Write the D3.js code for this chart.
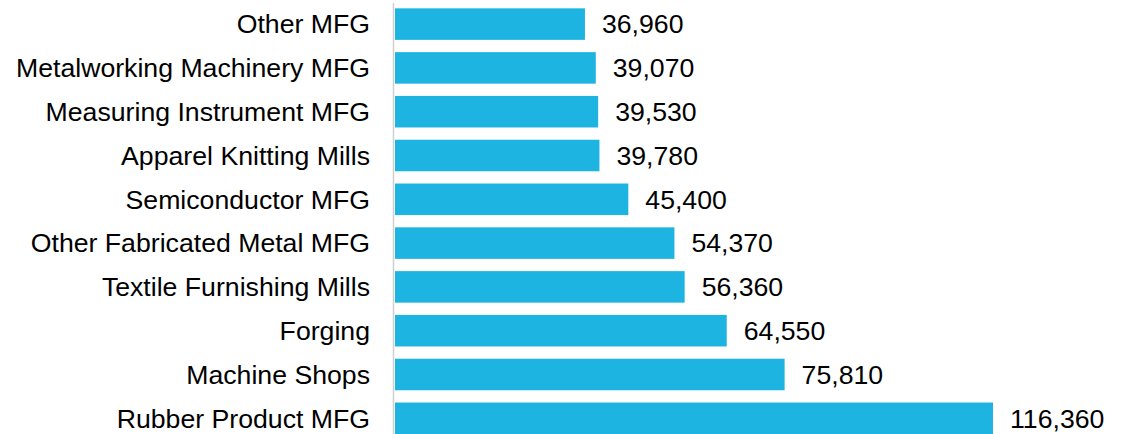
<!DOCTYPE html>
<html>
<head>
<meta charset="utf-8">
<script src="https://cdn.jsdelivr.net/npm/d3@7"></script>
<style>
  body { margin: 0; background: #fff; }
  text { font-family: "Liberation Sans", Arial, sans-serif; }
</style>
</head>
<body>
<script>
// categories and values, top to bottom
var categories = ["Other MFG", "Metalworking Machinery MFG", "Measuring Instrument MFG",
  "Apparel Knitting Mills", "Semiconductor MFG", "Other Fabricated Metal MFG",
  "Textile Furnishing Mills", "Forging", "Machine Shops", "Rubber Product MFG"];
var values = [36960, 39070, 39530, 39780, 45400, 54370, 56360, 64550, 75810, 116360];

var width = 1132, height = 434;
var x0 = 395;

var svg = d3.select("body").append("svg")
    .attr("width", width)
    .attr("height", height);

var x = d3.scaleLinear()
    .domain([0, 116360])
    .range([x0, 993]);

var y = d3.scaleBand()
    .domain(categories)
    .range([2.2, 440.2])
    .paddingInner(0.28)
    .paddingOuter(0.14);

var data = categories.map(function(c, i) { return {name: c, value: values[i]}; });

// bars
svg.selectAll(".bar")
    .data(data)
  .enter().append("rect")
    .attr("class", "bar")
    .attr("x", x(0))
    .attr("y", function(d) { return y(d.name); })
    .attr("width", function(d) { return x(d.value) - x(0); })
    .attr("height", y.bandwidth())
    .attr("fill", "#1EB4E1");

// axis line
svg.append("line")
    .attr("x1", x0 - 1.5).attr("x2", x0 - 1.5)
    .attr("y1", 3).attr("y2", height)
    .attr("stroke", "#d0d0d0")
    .attr("stroke-width", 1.5);

// category labels
svg.selectAll(".cat")
    .data(data)
  .enter().append("text")
    .attr("class", "cat")
    .attr("x", 370)
    .attr("y", function(d) { return y(d.name) + y.bandwidth() / 2; })
    .attr("dy", "0.35em")
    .attr("text-anchor", "end")
    .attr("font-size", "26.67px")
    .attr("fill", "#000")
    .text(function(d) { return d.name; });

// value labels
svg.selectAll(".val")
    .data(data)
  .enter().append("text")
    .attr("class", "val")
    .attr("x", function(d) { return x(d.value) + 17; })
    .attr("y", function(d) { return y(d.name) + y.bandwidth() / 2; })
    .attr("dy", "0.35em")
    .attr("font-size", "26.67px")
    .attr("fill", "#000")
    .text(function(d) { return d3.format(",")(d.value); });
</script>
</body>
</html>
